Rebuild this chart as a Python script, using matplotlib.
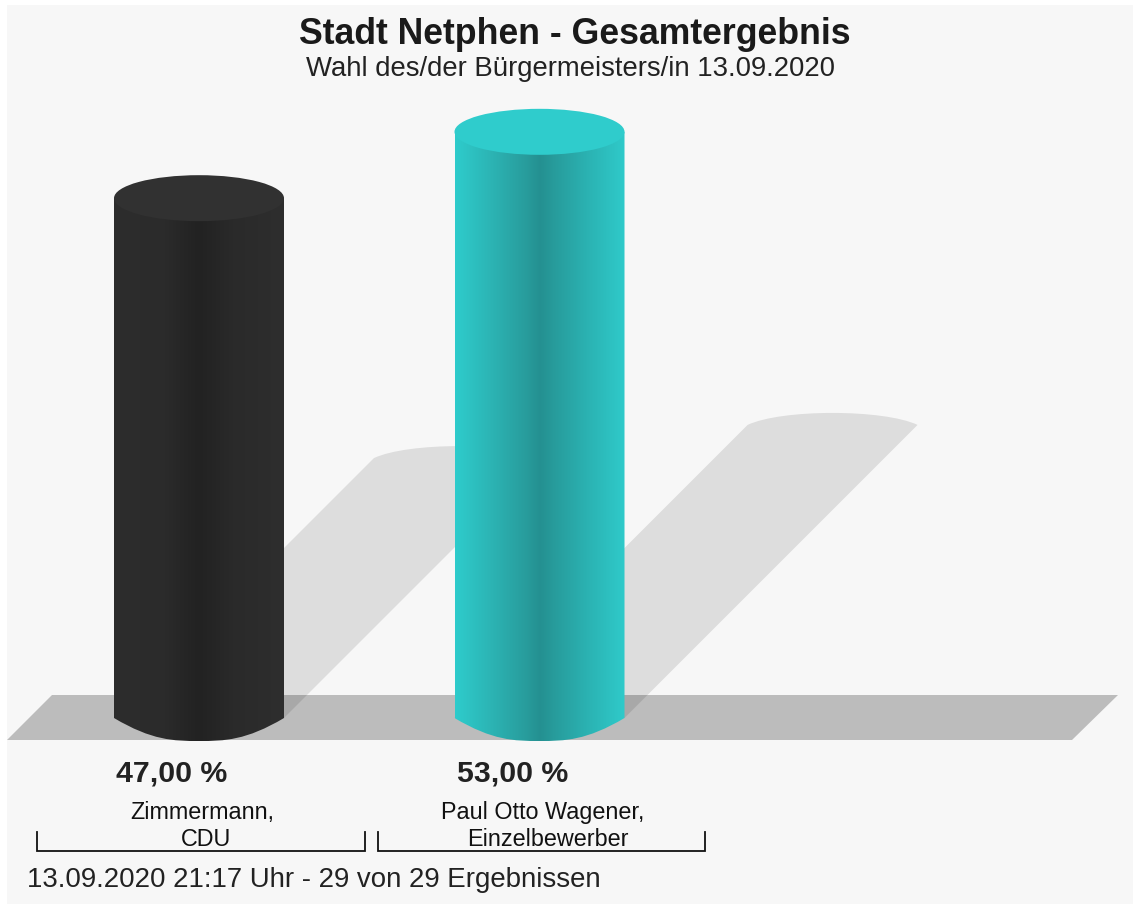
import matplotlib
matplotlib.use("Agg")
import matplotlib.pyplot as plt
import numpy as np
from matplotlib.colors import LinearSegmentedColormap
from matplotlib.patches import Ellipse, PathPatch, Polygon, Rectangle
from matplotlib.path import Path

# ---- data ----
title = "Stadt Netphen - Gesamtergebnis"
subtitle = "Wahl des/der Bürgermeisters/in 13.09.2020"
footer = "13.09.2020 21:17 Uhr - 29 von 29 Ergebnissen"
name_lines_1 = ["Zimmermann,", "Paul Otto Wagener,"]
name_lines_2 = ["CDU", "Einzelbewerber"]
shares = [47.0, 53.0]
share_labels = ["47,00 %", "53,00 %"]

# ---- style ----
BG = "#f7f7f7"
TOPS = ["#313131", "#2fcccc"]
STOPS = [
    [(0, "#2d2d2d"), (0.3, "#2b2b2b"), (0.5, "#222222"), (0.7, "#2a2a2a"), (1, "#2e2e2e")],
    [(0, "#2ecccc"), (0.22, "#2cb3b3"), (0.42, "#289c9c"), (0.5, "#249091"), (0.58, "#279b9b"),
     (0.78, "#2bb2b2"), (1, "#2fcaca")],
]
W, H = 1133, 906
BASE_PX = 718.0      # pixel row of value 0
PX_PER_PCT = 11.06   # pixels per percentage point
RX, RY = 85.0, 23.0
CENTERS = [199.0, 539.5]

fig = plt.figure(figsize=(W / 100, H / 100), dpi=100, facecolor="white")
ax = fig.add_axes([0, 0, 1, 1])
ax.set_axis_off()
ylim = ((BASE_PX - H) / PX_PER_PCT, BASE_PX / PX_PER_PCT)


def vy(py):
    """Value-axis position of a pixel row."""
    return (BASE_PX - py) / PX_PER_PCT


ry = RY / PX_PER_PCT
plt.rcParams["font.family"] = ["Liberation Sans", "DejaVu Sans"]

# panel inside the thin white margin
ax.add_patch(Rectangle((7, vy(904)), W - 7, vy(5) - vy(904), fc=BG, ec="none", zorder=0))

# floor
ax.add_patch(Polygon([(7, vy(740)), (1072, vy(740)), (1118, vy(695)), (52, vy(695))],
                     closed=True, fc="#bcbcbc", ec="none", zorder=1))

# shadows: half the height of the bar, sheared 45 degrees in pixels
for cx, v in zip(CENTERS, shares):
    top = v * 0.5
    tx = cx + top * PX_PER_PCT
    r = 12.0 / PX_PER_PCT
    verts = [(cx - RX, 0), (tx - RX, top),
             (tx - RX * 0.6, top + r / 0.75), (tx + RX * 0.6, top + r / 0.75), (tx + RX, top),
             (cx + RX, 0), (cx - RX, 0)]
    codes = [Path.MOVETO, Path.LINETO, Path.CURVE4, Path.CURVE4, Path.CURVE4,
             Path.LINETO, Path.CLOSEPOLY]
    ax.add_patch(PathPatch(Path(verts, codes), fc="black", alpha=0.1, ec="none", zorder=2))

# cylinders
K = 0.5522847
for cx, v, stops, top_c in zip(CENTERS, shares, STOPS, TOPS):
    cmap = LinearSegmentedColormap.from_list("c", stops)
    im = ax.imshow(np.linspace(0, 1, 340)[None, :], cmap=cmap, aspect="auto",
                   extent=(cx - RX, cx + RX, -ry, v), zorder=3, interpolation="bilinear")
    verts = [(cx - RX, v), (cx + RX, v), (cx + RX, 0),
             (cx + RX * K, -ry * 0.98), (cx + RX * 0.30, -ry), (cx, -ry),
             (cx - RX * 0.30, -ry), (cx - RX * K, -ry * 0.98), (cx - RX, 0),
             (cx - RX, v)]
    codes = [Path.MOVETO, Path.LINETO, Path.LINETO, Path.CURVE4, Path.CURVE4, Path.CURVE4,
             Path.CURVE4, Path.CURVE4, Path.CURVE4, Path.CLOSEPOLY]
    clip = PathPatch(Path(verts, codes), transform=ax.transData, fc="none", ec="none")
    ax.add_patch(clip)
    im.set_clip_path(clip)
    ax.add_patch(Ellipse((cx, v), 2 * RX, 2 * ry, fc=top_c, ec="none", zorder=4))

ax.set_xlim(0, W)
ax.set_ylim(*ylim)

# titles
ax.text(574.5, vy(35), title, ha="center", va="center", fontsize=25.7, fontweight="bold",
        color="#1a1a1a", zorder=6)
ax.text(570, vy(69.5), subtitle, ha="center", va="center", fontsize=19.8, color="#222222", zorder=6)

# share labels and names
for x, lab in zip([171.5, 512.5], share_labels):
    ax.text(x, vy(773), lab, ha="center", va="center", fontsize=21.8, fontweight="bold",
            color="#222222", zorder=6)
for x, line in zip([202, 542.5], name_lines_1):
    ax.text(x, vy(813), line, ha="center", va="center", fontsize=16.8, color="#111111", zorder=6)
for x, line in zip([206, 547.5], name_lines_2):
    ax.text(x, vy(840), line, ha="center", va="center", fontsize=16.8, color="#111111", zorder=6)

# brackets
for x0, x1 in [(37, 365), (378, 705)]:
    ax.plot([x0, x0, x1, x1], [vy(832), vy(851), vy(851), vy(832)], color="#111111",
            lw=1.3, solid_joinstyle="miter", zorder=5)

ax.text(27, vy(880), footer, ha="left", va="center", fontsize=19.9, color="#222222", zorder=6)

fig.savefig("out.png", dpi=100, facecolor="white")
